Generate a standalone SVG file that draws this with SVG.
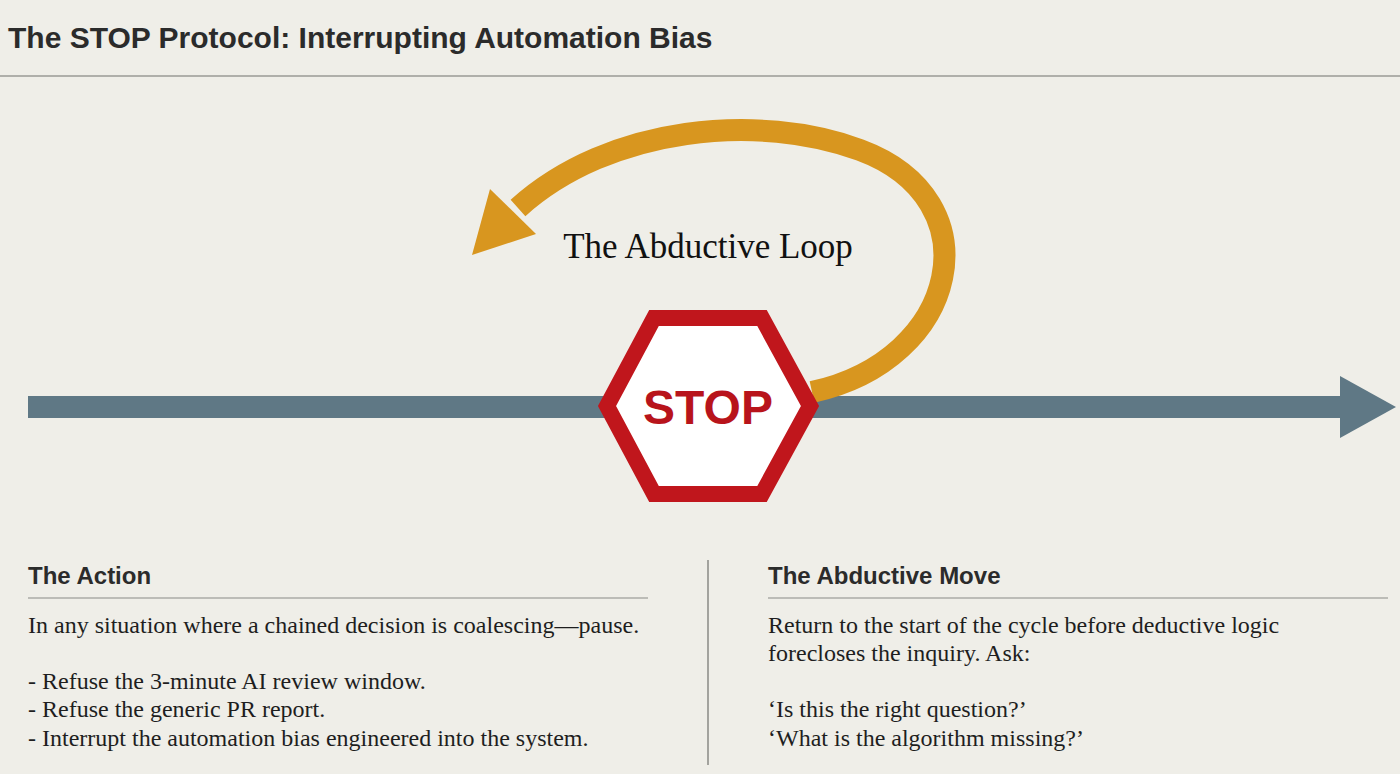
<svg xmlns="http://www.w3.org/2000/svg" width="1400" height="774" viewBox="0 0 1400 774">
<style>
.h{font-family:"Liberation Sans",Arial,sans-serif;font-weight:bold;fill:#2b2b2b}
.b{font-family:"Liberation Serif","Times New Roman",serif;font-size:24px;fill:#1e1e1e}
</style>
<rect width="1400" height="774" fill="#efeee8"/>
<text class="h" x="8" y="48" font-size="30" style="font-weight:600">The STOP Protocol: Interrupting Automation Bias</text>
<line x1="0" y1="76" x2="1400" y2="76" stroke="#9a9a96" stroke-width="1.5"/>
<g id="connectors">
<line x1="28" y1="407" x2="1350" y2="407" stroke="#5f7885" stroke-width="22"/>
<polygon points="1340,376 1396,407 1340,438" fill="#5f7885"/>
<path d="M812,392 C960,360 995,200 860,150 C760,113 610,125 518,208" fill="none" stroke="#d8961f" stroke-width="22"/>
<polygon points="490,189 536,234 472,255" fill="#d8961f"/>
</g>
<g id="loop-label"><text x="708" y="258" text-anchor="middle" font-family="Liberation Serif,serif" font-size="35" fill="#111">The Abductive Loop</text></g>
<g id="stop">
<polygon points="607,406 654,318 762,318 810,406 762,494 654,494" fill="#fff" stroke="#c0161c" stroke-width="16" stroke-linejoin="miter"/>
<text x="708" y="424" text-anchor="middle" font-family="Liberation Sans,Arial,sans-serif" font-weight="bold" font-size="48" fill="#b8141b">STOP</text>
</g>
<line x1="708" y1="560" x2="708" y2="765" stroke="#8a8a86" stroke-width="1.5"/>
<g id="action">
<text class="h" x="28" y="584" font-size="24">The Action</text>
<line x1="28" y1="598" x2="648" y2="598" stroke="#8a8a86" stroke-width="1.2"/>
<text class="b" x="28" y="633">In any situation where a chained decision is coalescing—pause.</text>
<text class="b" x="28" y="689">- Refuse the 3-minute AI review window.</text>
<text class="b" x="28" y="717">- Refuse the generic PR report.</text>
<text class="b" x="28" y="746">- Interrupt the automation bias engineered into the system.</text>
</g>
<g id="move">
<text class="h" x="768" y="584" font-size="24">The Abductive Move</text>
<line x1="768" y1="598" x2="1388" y2="598" stroke="#8a8a86" stroke-width="1.2"/>
<text class="b" x="768" y="633">Return to the start of the cycle before deductive logic</text>
<text class="b" x="768" y="661">forecloses the inquiry. Ask:</text>
<text class="b" x="768" y="717">‘Is this the right question?’</text>
<text class="b" x="768" y="746">‘What is the algorithm missing?’</text>
</g>
</svg>
